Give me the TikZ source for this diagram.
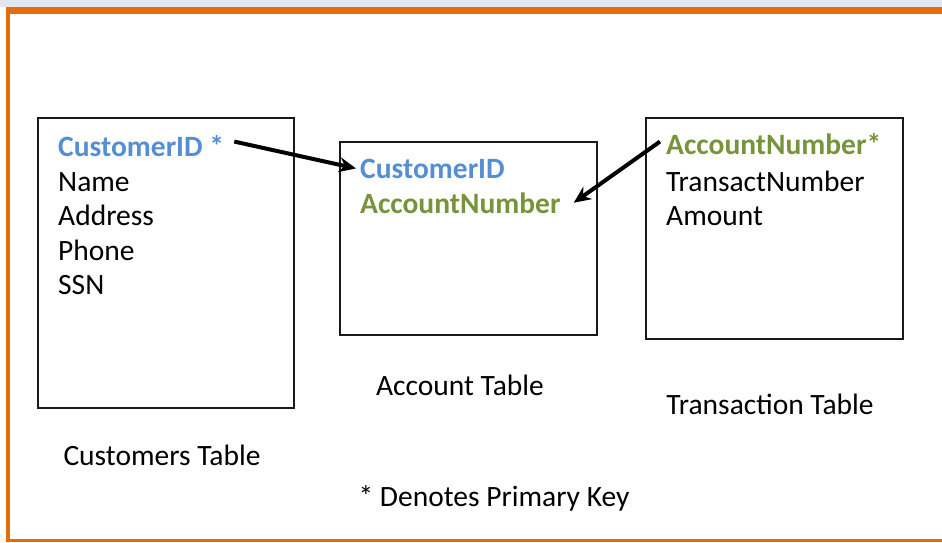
\documentclass[tikz,border=0pt]{standalone}
\usepackage{fontspec}
\setmainfont{Carlito}
\definecolor{keyblue}{RGB}{85,142,213}
\definecolor{keygreen}{RGB}{119,147,60}
\definecolor{frameorange}{RGB}{228,108,10}
\definecolor{topgray}{RGB}{227,230,238}
\usetikzlibrary{arrows.meta,positioning}

\begin{document}
\begin{tikzpicture}[
  x=1pt,y=-1pt,
  every node/.style={font=\fontsize{29.5}{35}\selectfont},
  tblbox/.style={draw=black!90,line width=2pt,inner sep=0pt},
  field/.style={anchor=base west,inner sep=0pt},
  pkblue/.style={field,text=keyblue,font=\fontsize{29.5}{35}\selectfont\bfseries},
  pkgreen/.style={field,text=keygreen,font=\fontsize{29.5}{35}\selectfont\bfseries},
  caption/.style={anchor=base,inner sep=0pt},
  arr/.style={-{Stealth[length=17pt,width=15pt]},line width=4pt},
]
  \useasboundingbox (0,0) rectangle (942,542);

  % Frame
  \fill[topgray] (0,0) rectangle (942,7);
  \fill[frameorange] (6,7) rectangle (942,14);
  \fill[frameorange] (6,7) rectangle (10,542);
  \fill[frameorange] (6,539) rectangle (942,542);

  % Table boxes
  \node[tblbox,minimum width=256pt,minimum height=290pt] (cust) at (166,263) {};
  \node[tblbox,minimum width=257pt,minimum height=193pt] (acct) at (468.5,238.5) {};
  \node[tblbox,minimum width=257pt,minimum height=221pt] (trans) at (774.5,228.5) {};

  % Customers fields
  \node[pkblue] (cid) at (58,156) {CustomerID *};
  \node[field] (cname) at (58,191) {Name};
  \node[field] (caddr) at (58,225) {Address};
  \node[field] (cphone) at (58,260) {Phone};
  \node[field] (cssn) at (58,294) {SSN};

  % Account fields
  \node[pkblue] (acid) at (360,178) {CustomerID};
  \node[pkgreen] (aan) at (360,213) {AccountNumber};

  % Transaction fields
  \node[pkgreen] (tan) at (666,154) {AccountNumber*};
  \node[field] (ttn) at (666,191) {TransactNumber};
  \node[field] (tamt) at (666,225) {Amount};

  % Captions
  \node[caption] (custcap) at (162,465) {Customers Table};
  \node[caption] (acctcap) at (460,395) {Account Table};
  \node[caption] (transcap) at (770,414) {Transaction Table};
  \node[caption] (note) at (494,506) {* Denotes Primary Key};

  % Key links
  \draw[arr] ([xshift=10pt,yshift=4pt]cid.east) -- ([xshift=-4pt]acid.west);
  \draw[arr] ([xshift=-6pt,yshift=2pt]tan.west) -- ([xshift=13pt]aan.east);
\end{tikzpicture}
\end{document}
